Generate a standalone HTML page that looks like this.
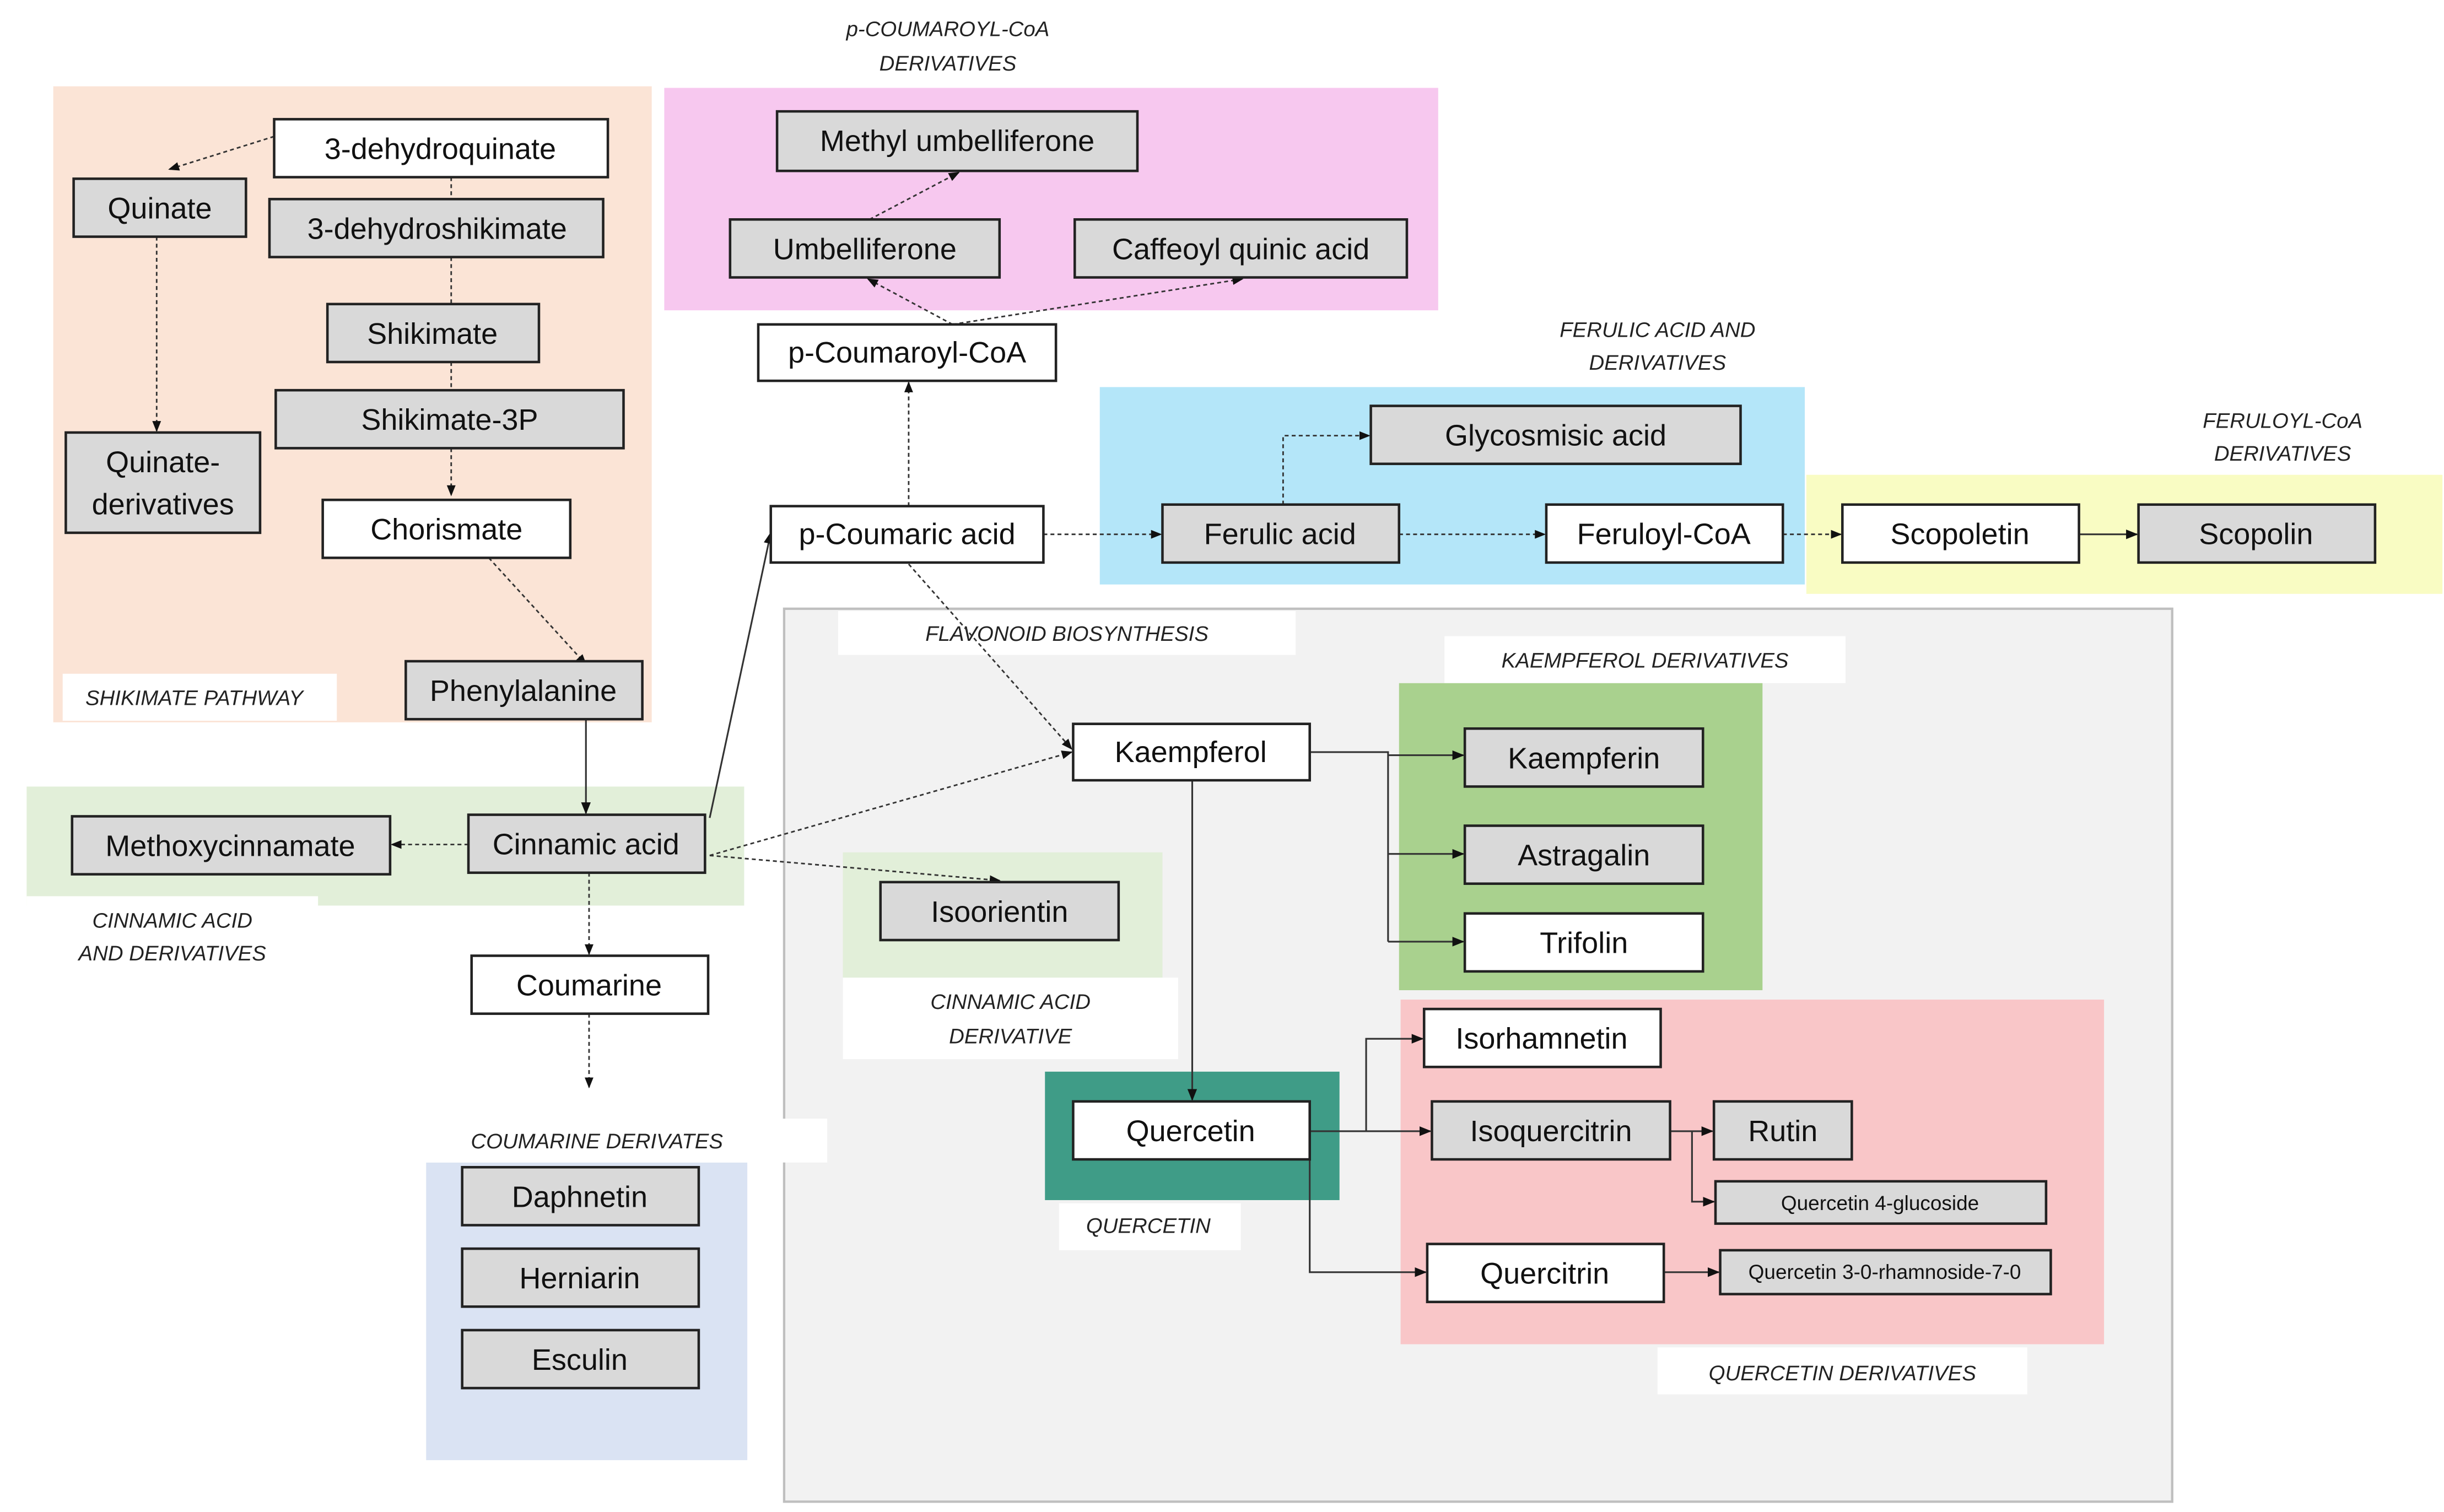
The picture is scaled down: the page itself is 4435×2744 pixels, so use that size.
<!DOCTYPE html>
<html><head><meta charset="utf-8"><style>
html,body{margin:0;padding:0;background:#fff}
svg{display:block}
.b{stroke:#222;stroke-width:1.6}
.g{fill:#d9d9d9}.w{fill:#fff}
.t{font-family:"Liberation Sans",sans-serif;font-size:19px;fill:#111;text-anchor:middle;dominant-baseline:central}
.s{font-size:13px}
.l{font-family:"Liberation Sans",sans-serif;font-size:13.5px;font-style:italic;fill:#222;text-anchor:middle}
.d{stroke:#333;stroke-width:1;stroke-dasharray:2.5 2;fill:none}
.c{stroke:#333;stroke-width:1.1;fill:none}
</style></head><body>
<svg width="4435" height="2744" viewBox="0 0 1560 965" xmlns="http://www.w3.org/2000/svg">
<defs><marker id="a" viewBox="0 0 10 10" refX="9" refY="5" markerWidth="7" markerHeight="7" orient="auto-start-reverse"><path d="M0,1 L10,5 L0,9z" fill="#111"/></marker></defs>
<rect width="1560" height="965" fill="#fff"/>
<!-- regions -->
<rect x="34" y="55" width="382" height="406" fill="#fbe4d6"/>
<rect x="40" y="430" width="175" height="30" fill="#fff"/>
<text class="l" x="124" y="450">SHIKIMATE PATHWAY</text>
<rect x="424" y="56" width="494" height="142" fill="#f7c8ef"/>
<text class="l" x="605" y="23">p-COUMAROYL-CoA</text><text class="l" x="605" y="45">DERIVATIVES</text>
<rect x="702" y="247" width="450" height="126" fill="#b4e6f9"/>
<text class="l" x="1058" y="215">FERULIC ACID AND</text><text class="l" x="1058" y="236">DERIVATIVES</text>
<rect x="1153" y="303" width="406" height="76" fill="#f9fcc3"/>
<text class="l" x="1457" y="273">FERULOYL-CoA</text><text class="l" x="1457" y="294">DERIVATIVES</text>
<rect x="500.5" y="388.5" width="886" height="570" fill="#f2f2f2" stroke="#bfbfbf" stroke-width="1.5"/>
<rect x="535" y="390" width="292" height="28" fill="#fff"/>
<text class="l" x="681" y="409">FLAVONOID BIOSYNTHESIS</text>
<rect x="922" y="406" width="256" height="30" fill="#fff"/>
<text class="l" x="1050" y="426">KAEMPFEROL DERIVATIVES</text>
<rect x="893" y="436" width="232" height="196" fill="#a9d18e"/>
<rect x="894" y="638" width="449" height="220" fill="#f9c6c8"/>
<rect x="1058" y="860" width="236" height="30" fill="#fff"/>
<text class="l" x="1176" y="881">QUERCETIN DERIVATIVES</text>
<rect x="667" y="684" width="188" height="82" fill="#3f9c87"/>
<rect x="676" y="768" width="116" height="30" fill="#fff"/>
<text class="l" x="733" y="787">QUERCETIN</text>
<rect x="17" y="502" width="458" height="76" fill="#e2efd9"/>
<rect x="17" y="572" width="186" height="10" fill="#fff"/>
<text class="l" x="110" y="592">CINNAMIC ACID</text><text class="l" x="110" y="613">AND DERIVATIVES</text>
<rect x="538" y="544" width="204" height="80" fill="#e2efd9"/>
<rect x="538" y="624" width="214" height="52" fill="#fff"/>
<text class="l" x="645" y="644">CINNAMIC ACID</text><text class="l" x="645" y="666">DERIVATIVE</text>
<rect x="272" y="742" width="205" height="190" fill="#dae3f3"/>
<rect x="272" y="714" width="256" height="28" fill="#fff"/>
<text class="l" x="381" y="733">COUMARINE DERIVATES</text>
<!-- connectors -->
<path class="d" d="M175,87 L108,108" marker-end="url(#a)"/>
<path class="d" d="M288,113 V127 M288,164 V194 M288,231 V249"/>
<path class="d" d="M288,286 V316" marker-end="url(#a)"/>
<path class="d" d="M100,151 V275" marker-end="url(#a)"/>
<path class="d" d="M312,356 L374,424" marker-end="url(#a)"/>
<path class="c" d="M374,459 V519" marker-end="url(#a)"/>
<path class="d" d="M299,539 H250" marker-end="url(#a)"/>
<path class="d" d="M376,557 V609" marker-end="url(#a)"/>
<path class="d" d="M376,647 V694" marker-end="url(#a)"/>
<path class="c" d="M453,522 L492,340" marker-end="url(#a)"/>
<path class="d" d="M453,546 L684,480" marker-end="url(#a)"/>
<path class="d" d="M453,546 L638,562" marker-end="url(#a)"/>
<path class="d" d="M580,323 V244" marker-end="url(#a)"/>
<path class="d" d="M580,360 L684,478" marker-end="url(#a)"/>
<path class="d" d="M666,341 H741" marker-end="url(#a)"/>
<path class="d" d="M608,207 L554,178" marker-end="url(#a)"/>
<path class="d" d="M608,207 L793,178" marker-end="url(#a)"/>
<path class="d" d="M555,140 L612,110" marker-end="url(#a)"/>
<path class="d" d="M819,322 V278 H874" marker-end="url(#a)"/>
<path class="d" d="M893,341 H986" marker-end="url(#a)"/>
<path class="d" d="M1138,341 H1175" marker-end="url(#a)"/>
<path class="c" d="M1327,341 H1364" marker-end="url(#a)"/>
<path class="c" d="M836,480 H886 V601"/>
<path class="c" d="M886,482 H934" marker-end="url(#a)"/>
<path class="c" d="M886,545 H934" marker-end="url(#a)"/>
<path class="c" d="M886,601 H934" marker-end="url(#a)"/>
<path class="c" d="M761,498 V702" marker-end="url(#a)"/>
<path class="c" d="M836,722 H872 V663 H908" marker-end="url(#a)"/>
<path class="c" d="M872,722 H913" marker-end="url(#a)"/>
<path class="c" d="M836,740 V812 H910" marker-end="url(#a)"/>
<path class="c" d="M1066,722 H1093" marker-end="url(#a)"/>
<path class="c" d="M1080,722 V767 H1094" marker-end="url(#a)"/>
<path class="c" d="M1062,812 H1097" marker-end="url(#a)"/>
<!-- boxes -->
<g>
<rect class="b w" x="175" y="76" width="213" height="37"/><text class="t" x="281" y="95">3-dehydroquinate</text>
<rect class="b g" x="47" y="114" width="110" height="37"/><text class="t" x="102" y="133">Quinate</text>
<rect class="b g" x="172" y="127" width="213" height="37"/><text class="t" x="279" y="146">3-dehydroshikimate</text>
<rect class="b g" x="209" y="194" width="135" height="37"/><text class="t" x="276" y="213">Shikimate</text>
<rect class="b g" x="176" y="249" width="222" height="37"/><text class="t" x="287" y="268">Shikimate-3P</text>
<rect class="b g" x="42" y="276" width="124" height="64"/><text class="t" x="104" y="295">Quinate-</text><text class="t" x="104" y="322">derivatives</text>
<rect class="b w" x="206" y="319" width="158" height="37"/><text class="t" x="285" y="338">Chorismate</text>
<rect class="b g" x="259" y="422" width="151" height="37"/><text class="t" x="334" y="441">Phenylalanine</text>
<rect class="b g" x="496" y="71" width="230" height="38"/><text class="t" x="611" y="90">Methyl umbelliferone</text>
<rect class="b g" x="466" y="140" width="172" height="37"/><text class="t" x="552" y="159">Umbelliferone</text>
<rect class="b g" x="686" y="140" width="212" height="37"/><text class="t" x="792" y="159">Caffeoyl quinic acid</text>
<rect class="b w" x="484" y="207" width="190" height="36"/><text class="t" x="579" y="225">p-Coumaroyl-CoA</text>
<rect class="b w" x="492" y="323" width="174" height="36"/><text class="t" x="579" y="341">p-Coumaric acid</text>
<rect class="b g" x="875" y="259" width="236" height="37"/><text class="t" x="993" y="278">Glycosmisic acid</text>
<rect class="b g" x="742" y="322" width="151" height="37"/><text class="t" x="817" y="341">Ferulic acid</text>
<rect class="b w" x="987" y="322" width="151" height="37"/><text class="t" x="1062" y="341">Feruloyl-CoA</text>
<rect class="b w" x="1176" y="322" width="151" height="37"/><text class="t" x="1251" y="341">Scopoletin</text>
<rect class="b g" x="1365" y="322" width="151" height="37"/><text class="t" x="1440" y="341">Scopolin</text>
<rect class="b w" x="685" y="462" width="151" height="36"/><text class="t" x="760" y="480">Kaempferol</text>
<rect class="b g" x="935" y="465" width="152" height="37"/><text class="t" x="1011" y="484">Kaempferin</text>
<rect class="b g" x="935" y="527" width="152" height="37"/><text class="t" x="1011" y="546">Astragalin</text>
<rect class="b w" x="935" y="583" width="152" height="37"/><text class="t" x="1011" y="602">Trifolin</text>
<rect class="b g" x="46" y="521" width="203" height="37"/><text class="t" x="147" y="540">Methoxycinnamate</text>
<rect class="b g" x="299" y="520" width="151" height="37"/><text class="t" x="374" y="539">Cinnamic acid</text>
<rect class="b g" x="562" y="563" width="152" height="37"/><text class="t" x="638" y="582">Isoorientin</text>
<rect class="b w" x="301" y="610" width="151" height="37"/><text class="t" x="376" y="629">Coumarine</text>
<rect class="b w" x="909" y="644" width="151" height="37"/><text class="t" x="984" y="663">Isorhamnetin</text>
<rect class="b w" x="685" y="703" width="151" height="37"/><text class="t" x="760" y="722">Quercetin</text>
<rect class="b g" x="914" y="703" width="152" height="37"/><text class="t" x="990" y="722">Isoquercitrin</text>
<rect class="b g" x="1094" y="703" width="88" height="37"/><text class="t" x="1138" y="722">Rutin</text>
<rect class="b g" x="1095" y="754" width="211" height="27"/><text class="t s" x="1200" y="768">Quercetin 4-glucoside</text>
<rect class="b w" x="911" y="794" width="151" height="37"/><text class="t" x="986" y="813">Quercitrin</text>
<rect class="b g" x="1098" y="798" width="211" height="28"/><text class="t s" x="1203" y="812">Quercetin 3-0-rhamnoside-7-0</text>
<rect class="b g" x="295" y="745" width="151" height="37"/><text class="t" x="370" y="764">Daphnetin</text>
<rect class="b g" x="295" y="797" width="151" height="37"/><text class="t" x="370" y="816">Herniarin</text>
<rect class="b g" x="295" y="849" width="151" height="37"/><text class="t" x="370" y="868">Esculin</text>
</g>
</svg>
</body></html>
